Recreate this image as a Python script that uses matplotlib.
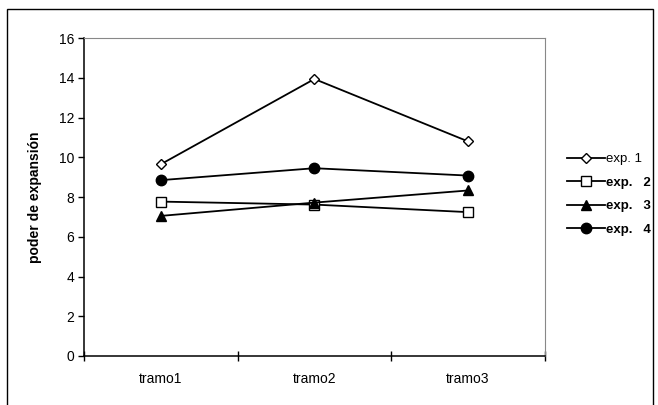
import matplotlib.pyplot as plt
from matplotlib.patches import Rectangle

plt.rcParams['font.family'] = ['Liberation Sans', 'DejaVu Sans']

tramos = ['tramo1', 'tramo2', 'tramo3']
exp1 = [9.65, 13.94, 10.8]
exp2 = [7.77, 7.62, 7.24]
exp3 = [7.05, 7.72, 8.33]
exp4 = [8.85, 9.45, 9.08]
etiquetas = ['exp. 1', 'exp.   2', 'exp.   3', 'exp.   4']

fig = plt.figure(figsize=(6.58, 4.05), dpi=100)
# marco exterior del gráfico
fig.patches.append(Rectangle((0.011, -0.01), 0.982, 0.988, transform=fig.transFigure,
                             fill=False, edgecolor='black', linewidth=1.0))

ax = fig.add_axes([0.1277, 0.121, 0.7003, 0.785])
x = [1, 2, 3]

l1, = ax.plot(x, exp1, color='black', lw=1.3, marker='D', ms=5.5,
              mfc='white', mec='black', mew=1.0)
l2, = ax.plot(x, exp2, color='black', lw=1.3, marker='s', ms=7.5,
              mfc='white', mec='black', mew=1.0)
l3, = ax.plot(x, exp3, color='black', lw=1.3, marker='^', ms=7.5,
              mfc='black', mec='black')
l4, = ax.plot(x, exp4, color='black', lw=1.3, marker='o', ms=7.5,
              mfc='black', mec='black')

ax.set_xlim(0.5, 3.5)
ax.set_ylim(0, 16)
ax.set_yticks(range(0, 17, 2))
ax.tick_params(axis='y', direction='out', length=4, width=1, labelsize=10, pad=3)

# marcas de categoría en los límites
ax.set_xticks([0.5, 1.5, 2.5, 3.5])
ax.set_xticklabels([])
ax.tick_params(axis='x', direction='inout', length=7, width=1)
for xi, t in zip(x, tramos):
    ax.text(xi, -1.15, t, ha='center', va='center', fontsize=10)

for s in ['top', 'right']:
    ax.spines[s].set_color('#888888')
for s in ['left', 'bottom']:
    ax.spines[s].set_color('black')
    ax.spines[s].set_linewidth(1.1)

ax.set_ylabel('poder de expansión', fontsize=10, fontweight='bold', labelpad=12)

leg = fig.legend([l1, l2, l3, l4], etiquetas, loc='upper left',
                 bbox_to_anchor=(0.853, 0.635), frameon=False, fontsize=9.5,
                 handlelength=2.9, handletextpad=0.1, labelspacing=0.85,
                 borderaxespad=0)
for i, txt in enumerate(leg.get_texts()):
    if i > 0:
        txt.set_fontweight('bold')

fig.savefig('out.png', dpi=100)
